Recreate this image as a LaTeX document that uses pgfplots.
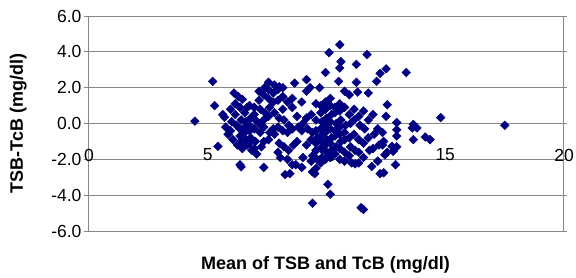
\documentclass[border=0pt]{standalone}
\usepackage{pgfplots}
\pgfplotsset{compat=1.18}
\usepackage{fontspec}
\setmainfont{Liberation Sans}
\definecolor{navy}{RGB}{0,0,128}
\definecolor{gridgray}{RGB}{135,135,135}
\begin{document}
\begin{tikzpicture}
\begin{axis}[
  scale only axis,
  width=475pt, height=215pt,
  xmin=0, xmax=20, ymin=-6, ymax=6,
  xtick={0,5,10,15,20},
  ytick={-6,-4,-2,0,2,4,6},
  ymajorgrids,
  major grid style={gridgray, line width=0.9pt},
  axis line style={gridgray, line width=0.9pt},
  xtick style={draw=none},
  ytick style={gridgray, line width=0.9pt},
  tick align=outside,
  major tick length=4pt,
  yticklabel style={/pgf/number format/.cd, fixed, fixed zerofill, precision=1, assume math mode=true, /tikz/.cd, font=\fontsize{17.5}{20}\selectfont, xshift=1pt},
  xticklabel style={/pgf/number format/assume math mode=true, anchor=center, yshift=80pt, xshift=1pt, font=\fontsize{17.5}{20}\selectfont},
  xlabel={\textbf{Mean of TSB and TcB (mg/dl)}},
  ylabel={\textbf{TSB-TcB (mg/dl)}},
  xlabel style={at={(axis description cs:0.5,-0.158)}, anchor=center, font=\fontsize{18}{20}\selectfont},
  ylabel style={at={(axis description cs:-0.147,0.5)}, anchor=center, font=\fontsize{18}{20}\selectfont},
  clip=false,
]
\addplot[only marks, mark=square*, mark size=3.1pt, mark options={rotate=45, fill=navy, draw=navy}, color=navy] coordinates {
(4.5,0.13) (5.25,2.35) (5.33,1.0) (5.47,-1.27) (5.67,0.5)
(6.4,-2.3) (6.45,-2.42) (6.15,1.7) (6.33,1.5) (6.5,1.35)
(7.4,-2.45) (7.6,2.3) (7.44,2.0) (7.85,2.15) (8.05,2.05) (8.2,2.0)
(8.3,-2.85) (8.5,-2.8) (8.7,2.25) (8.75,-2.3) (9.0,-2.45)
(9.2,2.45) (9.35,2.0) (9.45,-2.7) (9.55,-2.8) (9.45,-4.45)
(9.75,2.0) (10.0,2.85) (10.15,3.95) (10.1,-3.4) (10.2,-3.95)
(10.6,4.4) (10.65,3.45) (10.6,3.1) (10.55,2.35) (10.8,1.8)
(11.3,3.3) (11.75,3.85) (11.3,2.3) (11.35,1.75) (11.8,1.7)
(11.5,-4.7) (11.6,-4.8) (12.15,2.35) (12.3,2.8) (12.55,3.05)
(12.6,1.05) (12.55,0.4) (13.4,2.85) (11.95,-2.4) (12.3,-2.8) (12.45,-2.75)
(12.95,-2.3) (13.0,0.05) (13.0,-0.35) (13.0,-0.7) (13.0,-1.3)
(13.7,-0.05) (13.85,-0.25) (13.65,-0.25) (13.7,-0.9) (14.2,-0.75) (14.4,-0.9)
(14.85,0.33) (17.55,-0.1)
(12.8,-1.27) (12.85,-1.55) (12.4,-1.2) (12.5,-1.75)
(11.1,-2.2) (11.25,-2.25) (8.6,-2.3)
(5.75,0.35) (5.8,-0.2) (5.9,-0.6)
(6.0,0.8) (6.05,0.1) (6.0,-0.4) (6.1,-0.9)
(6.2,1.1) (6.2,0.5) (6.25,-0.1) (6.3,-1.2)
(6.4,0.9) (6.45,0.2) (6.4,-0.3) (6.4,-0.7) (6.45,-1.0) (6.5,-1.4)
(6.6,0.6) (6.65,0.1) (6.6,-0.2) (6.6,-0.5) (6.65,-0.9) (6.7,-1.2) (6.7,0.9)
(6.8,1.0) (6.85,0.3) (6.8,-0.1) (6.8,-0.4) (6.85,-0.8) (6.8,-1.1) (6.9,-1.5)
(7.0,0.9) (7.0,0.5) (7.05,0.2) (7.0,-0.3) (7.05,-1.0) (7.0,-1.4) (7.1,-1.7)
(7.2,1.8) (7.2,1.3) (7.25,0.8) (7.2,0.0) (7.25,-0.5) (7.3,-1.3)
(7.4,1.6) (7.45,0.6) (7.4,0.2) (7.4,-0.2) (7.4,-1.0)
(7.6,1.9) (7.6,1.4) (7.65,0.9) (7.6,0.4) (7.65,-0.5) (7.6,-0.9)
(7.8,1.7) (7.8,1.2) (7.85,0.6) (7.8,-0.3) (7.85,-0.6)
(8.0,1.9) (8.0,1.3) (8.05,0.3) (8.0,-0.2) (8.05,-1.1) (8.0,-1.6) (8.1,-1.9)
(8.2,1.5) (8.2,0.8) (8.25,0.2) (8.2,-0.4) (8.25,-1.3)
(8.4,1.2) (8.45,-0.1) (8.4,-0.5) (8.45,-1.5) (8.4,-2.0)
(8.6,1.4) (8.6,0.9) (8.6,-0.3) (8.65,-1.2)
(8.8,0.4) (8.85,-0.2) (8.8,-1.0)
(9.0,1.2) (9.05,0.0) (9.0,-0.4) (9.05,-1.9)
(9.2,0.3) (9.25,-0.3) (9.2,-1.2) (9.2,1.8)
(9.4,0.5) (9.45,-0.5) (9.4,-0.9) (9.45,-1.8) (9.4,-2.1)
(9.6,0.2) (9.6,-0.4) (9.65,-0.8) (9.6,-1.1) (9.6,-1.5) (9.65,-2.0) (9.6,-2.5) (9.6,1.1)
(9.8,1.0) (9.8,0.6) (9.85,0.1) (9.8,-0.3) (9.8,-0.7) (9.85,-1.0) (9.8,-1.4) (9.85,-1.9) (9.8,-2.2)
(10.0,1.2) (10.0,0.8) (10.05,0.3) (10.0,-0.1) (10.0,-0.5) (10.05,-0.9) (10.0,-1.2) (10.05,-1.6) (10.0,-2.0)
(10.2,1.4) (10.2,1.0) (10.25,0.5) (10.2,0.1) (10.2,-0.3) (10.25,-0.8) (10.2,-1.1) (10.25,-1.5) (10.2,-1.9)
(10.4,0.9) (10.4,0.6) (10.45,0.0) (10.4,-0.4) (10.4,-0.7) (10.45,-1.3) (10.4,-1.7)
(10.6,1.1) (10.6,0.7) (10.65,0.2) (10.6,-0.2) (10.6,-0.6) (10.65,-1.0) (10.6,-1.4) (10.6,-2.0)
(10.8,0.9) (10.85,-0.1) (10.8,-0.5) (10.8,-0.9) (10.8,-1.6) (10.8,-2.1)
(11.0,1.6) (11.0,0.5) (11.05,0.0) (11.0,-0.8) (11.05,-1.3) (11.0,-1.8)
(11.2,0.8) (11.2,0.2) (11.2,-0.6) (11.25,-1.5)
(11.4,0.4) (11.45,-0.1) (11.4,-0.9) (11.4,-1.6) (11.4,-2.2)
(11.6,0.7) (11.65,-0.3) (11.6,-1.1) (11.6,-1.9)
(11.8,0.2) (11.8,-0.8) (11.85,-1.5)
(12.0,0.5) (12.05,-0.6) (12.0,-1.4)
(12.2,-0.3) (12.25,-1.2) (12.2,-2.1)
(12.4,-0.5) (12.45,-1.0)
(12.6,-1.6)
};
\end{axis}
\pgfresetboundingbox
\path (current axis.south west) ++(-88pt,-46pt) coordinate (bl);
\path (current axis.north east) ++(13pt,16pt) coordinate (tr);
\path (bl) rectangle (tr);
\end{tikzpicture}
\end{document}
